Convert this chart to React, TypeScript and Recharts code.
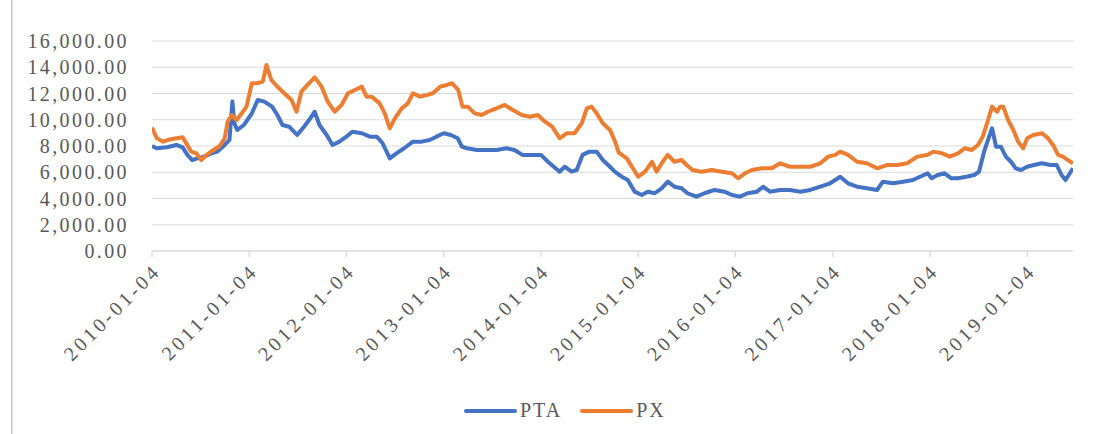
import React from 'react';
import { LineChart, Line, XAxis, YAxis, CartesianGrid, Legend, Customized } from 'recharts';

const xTickDates = [
  '2010-01-04', '2011-01-04', '2012-01-04', '2013-01-04', '2014-01-04',
  '2015-01-04', '2016-01-04', '2017-01-04', '2018-01-04', '2019-01-04',
];
const yTicks = [0, 2000, 4000, 6000, 8000, 10000, 12000, 14000, 16000];
const seriesNames = ['PTA', 'PX'];
const seriesColors = ['#4472C4', '#ED7D31'];

const ptaSeries: [string, number][] = [
  ['2010-01-04', 8000], ['2010-01-22', 7830], ['2010-03-01', 7900], ['2010-04-06', 8080],
  ['2010-04-29', 7900], ['2010-05-17', 7320], ['2010-06-04', 6930], ['2010-06-23', 7060],
  ['2010-07-19', 7190], ['2010-08-15', 7440], ['2010-09-07', 7570], ['2010-10-04', 8080],
  ['2010-10-22', 8460], ['2010-11-02', 11400], ['2010-11-09', 9730], ['2010-11-20', 9220],
  ['2010-12-15', 9600], ['2011-01-14', 10490], ['2011-02-05', 11500], ['2011-03-02', 11380],
  ['2011-03-31', 11000], ['2011-04-20', 10360], ['2011-05-09', 9600], ['2011-06-03', 9470],
  ['2011-07-03', 8840], ['2011-07-29', 9470], ['2011-08-17', 9980], ['2011-09-07', 10610],
  ['2011-09-25', 9600], ['2011-10-22', 8840], ['2011-11-13', 8080], ['2011-12-09', 8330],
  ['2012-01-04', 8710], ['2012-01-26', 9090], ['2012-03-02', 8970], ['2012-04-01', 8710],
  ['2012-04-27', 8710], ['2012-05-19', 8210], ['2012-06-15', 7060], ['2012-07-10', 7440],
  ['2012-08-08', 7830], ['2012-09-10', 8330], ['2012-10-13', 8330], ['2012-11-12', 8460],
  ['2012-12-07', 8710], ['2013-01-04', 8970], ['2013-01-30', 8840], ['2013-02-25', 8590],
  ['2013-03-13', 7950], ['2013-04-01', 7830], ['2013-05-08', 7700], ['2013-06-14', 7700],
  ['2013-07-21', 7700], ['2013-08-27', 7830], ['2013-09-26', 7700], ['2013-10-26', 7320],
  ['2013-12-02', 7320], ['2014-01-04', 7320], ['2014-01-30', 6800], ['2014-02-21', 6420],
  ['2014-03-15', 6040], ['2014-04-03', 6420], ['2014-04-29', 6040], ['2014-05-18', 6170],
  ['2014-06-09', 7320], ['2014-07-05', 7570], ['2014-08-01', 7570], ['2014-08-24', 6930],
  ['2014-09-20', 6420], ['2014-10-08', 6050], ['2014-11-03', 5660], ['2014-11-26', 5410],
  ['2014-12-22', 4520], ['2015-01-17', 4270], ['2015-02-09', 4520], ['2015-03-07', 4400],
  ['2015-04-02', 4780], ['2015-04-25', 5280], ['2015-05-20', 4900], ['2015-06-16', 4780],
  ['2015-07-08', 4400], ['2015-08-11', 4140], ['2015-09-10', 4400], ['2015-10-18', 4650],
  ['2015-11-24', 4520], ['2015-12-22', 4270], ['2016-01-21', 4140], ['2016-02-19', 4400],
  ['2016-03-25', 4520], ['2016-04-17', 4900], ['2016-05-13', 4520], ['2016-06-20', 4650],
  ['2016-07-27', 4650], ['2016-09-04', 4520], ['2016-10-11', 4650], ['2016-11-18', 4900],
  ['2016-12-25', 5160], ['2017-02-01', 5660], ['2017-03-02', 5160], ['2017-04-05', 4900],
  ['2017-05-12', 4780], ['2017-06-19', 4650], ['2017-07-11', 5280], ['2017-08-18', 5160],
  ['2017-09-25', 5280], ['2017-11-01', 5410], ['2017-11-27', 5660], ['2017-12-26', 5920],
  ['2018-01-10', 5540], ['2018-02-02', 5790], ['2018-02-28', 5920], ['2018-03-25', 5540],
  ['2018-04-19', 5540], ['2018-05-21', 5660], ['2018-06-19', 5790], ['2018-07-07', 6040],
  ['2018-07-26', 7570], ['2018-08-14', 8710], ['2018-08-25', 9350], ['2018-09-09', 7950],
  ['2018-09-27', 7950], ['2018-10-16', 7190], ['2018-11-04', 6800], ['2018-11-22', 6300],
  ['2018-12-11', 6170], ['2019-01-04', 6420], ['2019-01-29', 6550], ['2019-02-28', 6680],
  ['2019-04-02', 6550], ['2019-04-25', 6550], ['2019-05-13', 5790], ['2019-05-28', 5410],
  ['2019-06-25', 6300],
];

const pxSeries: [string, number][] = [
  ['2010-01-04', 9400], ['2010-01-22', 8600], ['2010-02-15', 8330], ['2010-03-11', 8500],
  ['2010-04-06', 8590], ['2010-04-29', 8660], ['2010-05-13', 8200], ['2010-05-31', 7570],
  ['2010-06-20', 7440], ['2010-07-08', 6930], ['2010-07-27', 7300], ['2010-08-19', 7640],
  ['2010-09-15', 8000], ['2010-10-04', 8590], ['2010-10-15', 9850], ['2010-10-30', 10360],
  ['2010-11-18', 9980], ['2010-12-07', 10490], ['2010-12-25', 11000], ['2011-01-14', 12780],
  ['2011-02-02', 12780], ['2011-02-24', 12900], ['2011-03-10', 14170], ['2011-03-28', 13030],
  ['2011-04-20', 12520], ['2011-05-16', 12020], ['2011-06-12', 11500], ['2011-07-01', 10610],
  ['2011-07-19', 12140], ['2011-08-11', 12650], ['2011-09-07', 13230], ['2011-10-03', 12520],
  ['2011-10-26', 11380], ['2011-11-21', 10610], ['2011-12-17', 11130], ['2012-01-10', 12020],
  ['2012-02-05', 12270], ['2012-03-02', 12520], ['2012-03-20', 11760], ['2012-04-08', 11760],
  ['2012-05-08', 11250], ['2012-05-27', 10490], ['2012-06-15', 9350], ['2012-07-04', 10110],
  ['2012-07-30', 10870], ['2012-08-22', 11250], ['2012-09-10', 12020], ['2012-10-06', 11760],
  ['2012-11-02', 11890], ['2012-11-24', 12020], ['2012-12-21', 12520], ['2013-01-16', 12650],
  ['2013-02-04', 12780], ['2013-02-27', 12270], ['2013-03-15', 11000], ['2013-04-04', 11000],
  ['2013-04-30', 10490], ['2013-05-26', 10360], ['2013-06-18', 10610], ['2013-07-21', 10870],
  ['2013-08-21', 11130], ['2013-09-20', 10740], ['2013-10-24', 10360], ['2013-11-23', 10230],
  ['2013-12-23', 10360], ['2014-01-19', 9850], ['2014-02-15', 9470], ['2014-03-15', 8590],
  ['2014-04-10', 8970], ['2014-05-10', 8970], ['2014-06-06', 9730], ['2014-06-25', 10870],
  ['2014-07-13', 11000], ['2014-08-01', 10490], ['2014-08-24', 9730], ['2014-09-20', 9220],
  ['2014-10-08', 8400], ['2014-10-23', 7500], ['2014-11-22', 7060], ['2014-12-15', 6300],
  ['2015-01-04', 5660], ['2015-01-30', 6040], ['2015-02-25', 6800], ['2015-03-14', 6040],
  ['2015-04-06', 6800], ['2015-04-25', 7320], ['2015-05-20', 6800], ['2015-06-16', 6930],
  ['2015-07-05', 6550], ['2015-07-27', 6170], ['2015-08-30', 6040], ['2015-10-07', 6170],
  ['2015-11-14', 6040], ['2015-12-22', 5920], ['2016-01-14', 5540], ['2016-02-09', 5920],
  ['2016-03-06', 6170], ['2016-04-13', 6300], ['2016-05-20', 6300], ['2016-06-20', 6680],
  ['2016-07-27', 6420], ['2016-09-04', 6420], ['2016-10-11', 6420], ['2016-11-18', 6680],
  ['2016-12-18', 7190], ['2017-01-13', 7320], ['2017-02-01', 7570], ['2017-03-02', 7320],
  ['2017-04-05', 6800], ['2017-05-12', 6680], ['2017-06-19', 6300], ['2017-07-26', 6550],
  ['2017-09-03', 6550], ['2017-10-10', 6680], ['2017-11-17', 7190], ['2017-12-24', 7320],
  ['2018-01-16', 7570], ['2018-02-19', 7440], ['2018-03-19', 7190], ['2018-04-19', 7440],
  ['2018-05-15', 7830], ['2018-06-10', 7700], ['2018-07-03', 8080], ['2018-07-21', 8710],
  ['2018-08-10', 9980], ['2018-08-25', 11000], ['2018-09-13', 10610], ['2018-09-24', 11000],
  ['2018-10-06', 11000], ['2018-10-24', 9980], ['2018-11-13', 9220], ['2018-12-01', 8330],
  ['2018-12-20', 7830], ['2019-01-04', 8590], ['2019-01-27', 8840], ['2019-03-01', 8970],
  ['2019-03-23', 8590], ['2019-04-11', 8080], ['2019-04-30', 7320], ['2019-05-18', 7190],
  ['2019-06-06', 6930], ['2019-06-25', 6680],
];

const DAY_MS = 86400000;
const ORIGIN = Date.UTC(2010, 0, 4);
const toDay = (s: string) => {
  const [y, m, d] = s.split('-').map(Number);
  return (Date.UTC(y, m - 1, d) - ORIGIN) / DAY_MS;
};

const ptaData = ptaSeries.map(([date, v]) => ({ d: toDay(date), date, value: v }));
const pxData = pxSeries.map(([date, v]) => ({ d: toDay(date), date, value: v }));
const xTicks = xTickDates.map(toDay);
const tickLabelByDay: Record<number, string> = {};
xTickDates.forEach((s) => { tickLabelByDay[toDay(s)] = s; });
const lastDay = Math.max(ptaData[ptaData.length - 1].d, pxData[pxData.length - 1].d);

const FONT = '"Liberation Serif", "Times New Roman", serif';
const TEXT_COLOR = '#595959';
const GRID = '#d9d9d9';
const FRAME = '#c6c6c6';

const fmtY = (v: number) =>
  v.toLocaleString('en-US', { minimumFractionDigits: 2, maximumFractionDigits: 2 });

const YTick = (props: any) => {
  const { x, y, payload } = props;
  return (
    <text x={x - 15} y={y} dy="0.36em" textAnchor="end" fontFamily={FONT} fontSize={20}
      fill={TEXT_COLOR} style={{ letterSpacing: '2.4px' }}>
      {fmtY(payload.value)}
    </text>
  );
};

const XTick = (props: any) => {
  const { x, y, payload } = props;
  const ax = x + 10;
  const ay = y + 13;
  return (
    <text x={ax} y={ay} textAnchor="end" fontFamily={FONT} fontSize={20} fill={TEXT_COLOR}
      transform={`rotate(-45 ${ax} ${ay})`} style={{ letterSpacing: '3.4px' }}>
      {tickLabelByDay[payload.value] ?? ''}
    </text>
  );
};

const LegendContent = () => (
  <div style={{ display: 'flex', alignItems: 'center', fontFamily: FONT, fontSize: 20, color: TEXT_COLOR, letterSpacing: '2px' }}>
    {seriesNames.map((name, i) => (
      <div key={name} style={{ display: 'flex', alignItems: 'center', marginRight: i === 0 ? 18 : 0 }}>
        <div style={{ width: 53, height: 4, borderRadius: 2, background: seriesColors[i], marginRight: 3 }} />
        <span>{name}</span>
      </div>
    ))}
  </div>
);

const Frame = () => <rect x={11} y={-2} width={1.5} height={440} fill={FRAME} />;

export default function App() {
  return (
    <div style={{ position: 'absolute', left: 0, top: 0, width: 1109, height: 434, background: '#fff' }}>
      <LineChart width={1109} height={434} margin={{ top: 41, right: 36, left: 12, bottom: 33 }}>
        <CartesianGrid vertical={false} stroke={GRID} strokeWidth={1.2} />
        <XAxis
          type="number"
          dataKey="d"
          domain={[0, lastDay]}
          ticks={xTicks}
          interval={0}
          height={120}
          axisLine={{ stroke: GRID, strokeWidth: 1.2 }}
          tickLine={{ stroke: GRID, strokeWidth: 1.2 }}
          tickSize={6}
          tick={<XTick />}
          allowDataOverflow
        />
        <YAxis
          type="number"
          domain={[0, 16000]}
          ticks={yTicks}
          interval={0}
          width={140}
          axisLine={false}
          tickLine={false}
          tick={<YTick />}
        />
        <Legend
          verticalAlign="bottom"
          align="left"
          height={30}
          content={<LegendContent />}
          wrapperStyle={{ left: 464, bottom: 5, width: 'auto' }}
        />
        <Customized component={Frame} />
        <Line data={ptaData} dataKey="value" name={seriesNames[0]} stroke={seriesColors[0]} strokeWidth={4}
          dot={false} isAnimationActive={false} strokeLinejoin="round" />
        <Line data={pxData} dataKey="value" name={seriesNames[1]} stroke={seriesColors[1]} strokeWidth={4}
          dot={false} isAnimationActive={false} strokeLinejoin="round" />
      </LineChart>
    </div>
  );
}
